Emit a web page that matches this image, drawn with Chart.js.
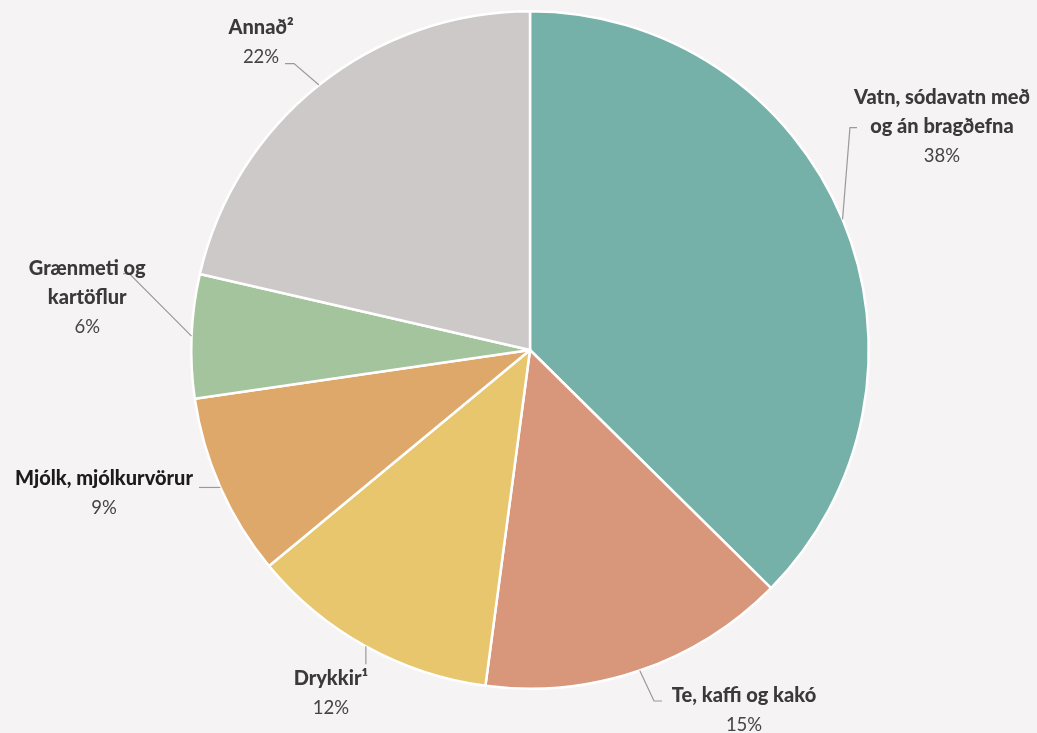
<!DOCTYPE html>
<html><head><meta charset="utf-8">
<script src="https://cdn.jsdelivr.net/npm/chart.js@4.4.1/dist/chart.umd.min.js"></script>
<style>
html,body{margin:0;padding:0;background:#f5f3f4;}
#wrap{width:1037px;height:733px;position:relative;}
</style></head>
<body><div id="wrap"><canvas id="c"></canvas></div>
<script>
const categories = [["Vatn, sódavatn með","og án bragðefna"],["Te, kaffi og kakó"],["Drykkir¹"],["Mjólk, mjólkurvörur"],["Grænmeti og","kartöflur"],["Annað²"]];
const shares = [37.4, 14.7, 11.9, 8.7, 5.9, 21.4];
const shareLabels = ["38%","15%","12%","9%","6%","22%"];
const colors = ["#76b1a9","#d8967b","#e8c66e","#dea86a","#a4c49d","#cdc9c8"];

// label layout: leader points and text anchor, relative to slice edge midpoint
const labelLayout = [
  {pts:[[7.4,-91.8],[14.4,-91.8]], tx:99.4, ty:-115.8},
  {pts:[[14.3,30.5],[22.3,30.5]], tx:104.3, ty:31.5},
  {pts:[[0,18]], tx:-35, ty:38.2},
  {pts:[[-21.4,0]], tx:-116.4, ty:-2},
  {pts:[[-62.3,-62.6],[-68.3,-62.6]], tx:-104.3, ty:-61.6},
  {pts:[[-25,-21.3],[-34,-21.3]], tx:-58, ty:-51.3}
];

const calloutPlugin = {
  id:'callouts',
  afterDraw(chart){
    const ctx = chart.ctx;
    const meta = chart.getDatasetMeta(0);
    meta.data.forEach((arc,i)=>{
      const p = arc.getProps(['x','y','startAngle','endAngle','outerRadius'],true);
      const mid = (p.startAngle+p.endAngle)/2;
      const ex = p.x + Math.cos(mid)*p.outerRadius;
      const ey = p.y + Math.sin(mid)*p.outerRadius;
      const L = labelLayout[i];
      ctx.save();
      ctx.strokeStyle = '#9a9a9a';
      ctx.lineWidth = 1.2;
      ctx.beginPath();
      ctx.moveTo(ex,ey);
      L.pts.forEach(q=>ctx.lineTo(ex+q[0],ey+q[1]));
      ctx.stroke();
      ctx.textAlign='center';
      ctx.textBaseline='alphabetic';
      const tx = ex+L.tx; let ty = ey+L.ty;
      ctx.font = '900 20px Lato, "Open Sans", sans-serif';
      ctx.fillStyle = i===3 ? '#1c1c1c' : '#3a3a3a';
      categories[i].forEach(line=>{ ctx.fillText(line,tx,ty); ty+=29; });
      ctx.font = '400 18.5px Lato, "Open Sans", sans-serif';
      ctx.fillStyle = '#444';
      ctx.fillText(shareLabels[i],tx,ty);
      ctx.restore();
    });
  }
};

new Chart(document.getElementById('c'),{
  type:'pie',
  data:{
    labels: categories.map(c=>c.join(' ')),
    datasets:[{data:shares, backgroundColor:colors, borderColor:'#ffffff', borderWidth:2.5}]
  },
  options:{
    responsive:true, maintainAspectRatio:false, animation:false,
    layout:{padding:{top:10,bottom:43,left:190,right:167}},
    plugins:{legend:{display:false}, tooltip:{enabled:false}}
  },
  plugins:[calloutPlugin]
});
</script></body></html>
